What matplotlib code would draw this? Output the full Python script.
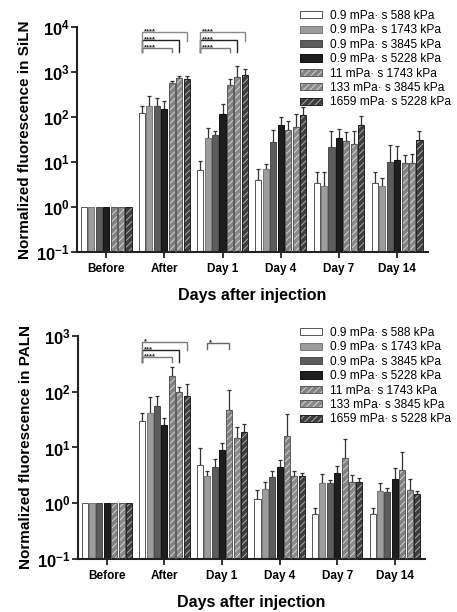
import numpy as np
import matplotlib
matplotlib.use('Agg')
import matplotlib.pyplot as plt
from matplotlib.patches import Patch

plt.rcParams['font.family'] = ['Liberation Sans', 'DejaVu Sans']
plt.rcParams['mathtext.fontset'] = 'custom'
plt.rcParams['mathtext.rm'] = 'Liberation Sans'
plt.rcParams['mathtext.bf'] = 'Liberation Sans:bold'
plt.rcParams['hatch.linewidth'] = 0.7

# 数据
groups = ['Before', 'After', 'Day 1', 'Day 4', 'Day 7', 'Day 14']
series = ['0.9 mPa\u00b7 s 588 kPa', '0.9 mPa\u00b7 s 1743 kPa', '0.9 mPa\u00b7 s 3845 kPa',
          '0.9 mPa\u00b7 s 5228 kPa', '11 mPa\u00b7 s 1743 kPa', '133 mPa\u00b7 s 3845 kPa',
          '1659 mPa\u00b7 s 5228 kPa']

# rows = groups, cols = series
siln_mean = [[1, 1, 1, 1, 1, 1, 1],
             [123, 178, 178, 153, 570, 745, 700],
             [6.7, 35, 40, 118, 505, 760, 860],
             [3.9, 7.0, 28, 67, 52, 61, 110],
             [3.5, 3.0, 21.5, 35, 29, 25.6, 67],
             [3.5, 3.0, 10, 10.9, 9.7, 9.7, 31.4]]
siln_upper = [[1, 1, 1, 1, 1, 1, 1],
              [178, 290, 260, 222, 620, 800, 830],
              [10.3, 57, 48, 195, 710, 1340, 1180],
              [7.1, 9.2, 52, 100, 80, 118, 167],
              [5.9, 5.9, 50, 53, 47, 50, 105],
              [5.9, 4.4, 23.5, 22.3, 14.5, 15, 50]]

paln_mean = [[1, 1, 1, 1, 1, 1, 1],
             [30, 42, 56, 25.7, 195, 100, 83],
             [4.8, 3.1, 4.5, 9.2, 48, 15, 18.7],
             [1.18, 1.83, 3.0, 4.4, 16, 3.1, 3.1],
             [0.63, 2.34, 2.27, 3.5, 6.6, 2.4, 2.4],
             [0.63, 1.68, 1.59, 2.7, 3.9, 1.75, 1.45]]
paln_upper = [[1, 1, 1, 1, 1, 1, 1],
              [41.6, 80, 83, 33.5, 283, 121, 135],
              [9.8, 3.8, 6.1, 12, 109, 23, 26],
              [1.7, 2.4, 3.8, 5.9, 40, 3.8, 3.5],
              [0.81, 3.3, 2.6, 4.6, 14.3, 3.2, 2.8],
              [0.81, 2.3, 1.9, 4.2, 8.4, 2.7, 1.66]]

# 显著性标记: (组, 起始柱, 结束柱, 星号)
siln_sig = [(1, 0, 4, '****'), (1, 0, 5, '****'), (1, 0, 6, '****'),
            (2, 0, 4, '****'), (2, 0, 5, '****'), (2, 0, 6, '****')]
paln_sig = [(1, 0, 4, '****'), (1, 0, 5, '***'), (1, 0, 6, '*'),
            (2, 1, 4, '*')]

# 样式
faces = ['white', '#9c9c9c', '#5c5c5c', '#1e1e1e', '#828282', '#8a8a8a', '#3e3e3e']
hatch_cols = [None, None, None, None, '#d0d0d0', '#d4d4d4', '#a8a8a8']
edges = ['#555555', '#7a7a7a', '#4a4a4a', '#111111', '#5a5a5a', '#5a5a5a', '#222222']
pitch = 0.128
width = 0.105


def draw_panel(ax, mean, upper, ymax, ylabel, sig, sig_levels):
    mean = np.array(mean)
    upper = np.array(upper)
    x = np.arange(len(groups))
    ax.set_yscale('log')
    for j in range(len(series)):
        xs = x + (j - 3) * pitch
        if hatch_cols[j] is None:
            ax.bar(xs, mean[:, j], width, color=faces[j], edgecolor=edges[j], linewidth=0.7, zorder=2)
        else:
            ax.bar(xs, mean[:, j], width, color=faces[j], edgecolor=hatch_cols[j],
                   hatch='/////', linewidth=0, zorder=2)
            ax.bar(xs, mean[:, j], width, fill=False, edgecolor=edges[j], linewidth=0.7, zorder=3)
        err = upper[:, j] - mean[:, j]
        m = err > 0
        ax.errorbar(xs[m], mean[m, j], yerr=[np.zeros(m.sum()), err[m]], fmt='none',
                    ecolor='#333333', elinewidth=0.9, capsize=1.3, capthick=0.9, zorder=1)

    # 显著性括号
    for (g, a, b, stars), (lvl, drop_l, drop_r, col) in zip(sig, sig_levels):
        xa = g + (a - 3) * pitch
        xb = g + (b - 3) * pitch
        ax.plot([xa, xa, xb, xb], [drop_l, lvl, lvl, drop_r], color=col, lw=1.0,
                solid_joinstyle='miter', zorder=4)
        ax.text(xa + 0.03, lvl * 0.95, stars, fontsize=5.5, fontweight='bold',
                ha='left', va='baseline', color='#222222')

    ax.set_xlim(-0.5, 5.53)
    ax.set_ylim(0.1, ymax)
    exps = list(range(-1, int(round(np.log10(ymax))) + 1))
    ax.set_yticks([10.0 ** e for e in exps])
    ax.set_yticklabels([r'$\mathbf{10^{%d}}$' % e for e in exps], fontsize=12)
    ax.yaxis.set_minor_locator(matplotlib.ticker.NullLocator())
    ax.set_xticks(x)
    ax.set_xticklabels(groups, fontsize=8.5, fontweight='bold')
    ax.tick_params(axis='both', direction='out', length=4, width=1.3, color='#222222')
    ax.tick_params(axis='y', pad=1)
    ax.tick_params(axis='x', pad=4)
    for s in ['top', 'right']:
        ax.spines[s].set_visible(False)
    for s in ['left', 'bottom']:
        ax.spines[s].set_linewidth(1.5)
        ax.spines[s].set_color('#222222')
    ax.set_ylabel(ylabel, fontsize=11, fontweight='bold', labelpad=3)
    ax.set_xlabel('Days after injection', fontsize=11.5, fontweight='bold', labelpad=9)


fig = plt.figure(figsize=(4.57, 6.12), dpi=100)
ax1 = fig.add_axes([0.1685, 0.588, 0.768, 0.368])
ax2 = fig.add_axes([0.1707, 0.0866, 0.760, 0.3644])

siln_levels = [(3400, 2800, 2800, '#7a7a7a'), (5100, 2800, 2800, '#222222'), (7600, 2800, 4900, '#8a8a8a'),
               (3400, 2800, 2800, '#7a7a7a'), (5100, 2800, 2800, '#222222'), (7600, 2800, 4900, '#8a8a8a')]
paln_levels = [(420, 340, 340, '#7a7a7a'), (560, 340, 340, '#222222'), (780, 340, 560, '#7a7a7a'),
               (750, 585, 585, '#666666')]

draw_panel(ax1, siln_mean, siln_upper, 1e4, 'Normalized fluorescence in SiLN', siln_sig, siln_levels)
draw_panel(ax2, paln_mean, paln_upper, 1e3, 'Normalized fluorescence in PALN', paln_sig, paln_levels)

# 图例
handles = []
for j in range(len(series)):
    if hatch_cols[j] is None:
        handles.append(Patch(facecolor=faces[j], edgecolor=edges[j], linewidth=0.7))
    else:
        handles.append((Patch(facecolor=faces[j], edgecolor=hatch_cols[j], hatch='/////', linewidth=0),
                        Patch(fill=False, edgecolor=edges[j], linewidth=0.7)))

for ax, top in [(ax1, 1 - 10 / 612), (ax2, 1 - 327 / 612)]:
    fig.legend(handles, series, loc='upper left', bbox_to_anchor=(300 / 457, top),
               frameon=False, fontsize=8.6, handlelength=1.8, handleheight=0.55,
               labelspacing=0.2, handletextpad=0.7, borderpad=0, borderaxespad=0)

fig.savefig('out.png', dpi=100)
